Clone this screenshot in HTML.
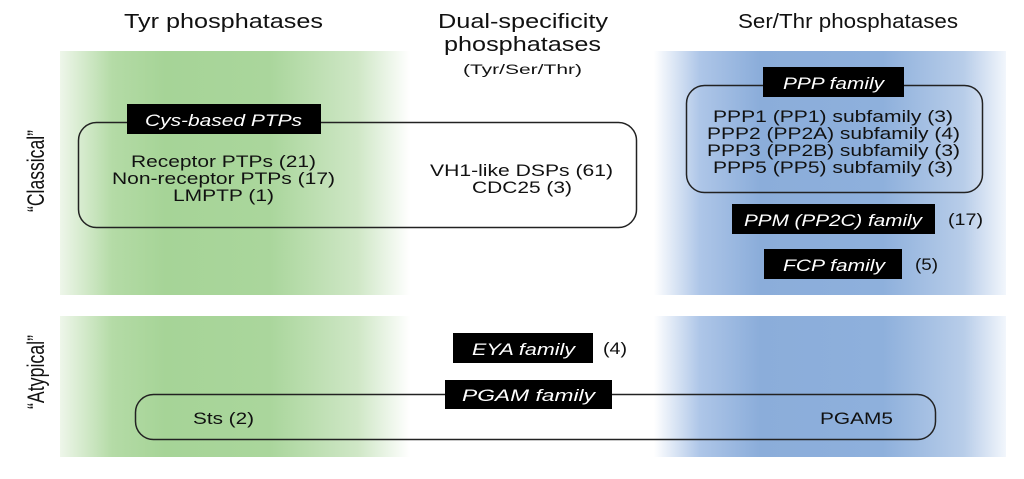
<!DOCTYPE html>
<html><head><meta charset="utf-8"><style>
html,body{margin:0;padding:0;background:#fff;width:1024px;height:479px;overflow:hidden}
svg text{font-family:"Liberation Sans",Arial,sans-serif;fill:#111}
</style></head><body>
<svg width="1024" height="479" viewBox="0 0 1024 479" xmlns="http://www.w3.org/2000/svg">
<defs>
<linearGradient id="g" x1="0" x2="1" y1="0" y2="0">
<stop offset="0" stop-color="#eef6ea"/>
<stop offset="0.15" stop-color="#b4dba6"/>
<stop offset="0.3" stop-color="#a6d497"/>
<stop offset="0.6" stop-color="#aad69c"/>
<stop offset="0.85" stop-color="#cfe7c6"/>
<stop offset="1" stop-color="#ffffff"/>
</linearGradient>
<linearGradient id="b" x1="0" x2="1" y1="0" y2="0">
<stop offset="0" stop-color="#ffffff"/>
<stop offset="0.13" stop-color="#aec6e8"/>
<stop offset="0.3" stop-color="#8badda"/>
<stop offset="0.65" stop-color="#8eb0dc"/>
<stop offset="0.88" stop-color="#b8cde9"/>
<stop offset="1" stop-color="#f2f6fc"/>
</linearGradient>
</defs>
<rect x="60" y="51" width="350" height="244" fill="url(#g)"/>
<rect x="60" y="316" width="350" height="141" fill="url(#g)"/>
<rect x="654" y="51" width="352" height="244" fill="url(#b)"/>
<rect x="654" y="316" width="352" height="141" fill="url(#b)"/>

<text x="124" y="28" font-size="20" textLength="199" lengthAdjust="spacingAndGlyphs">Tyr phosphatases</text>
<text x="438" y="28" font-size="20" textLength="170" lengthAdjust="spacingAndGlyphs">Dual-specificity</text>
<text x="444" y="51" font-size="20" textLength="157" lengthAdjust="spacingAndGlyphs">phosphatases</text>
<text x="463" y="74" font-size="14" textLength="119" lengthAdjust="spacingAndGlyphs">(Tyr/Ser/Thr)</text>
<text x="738" y="28" font-size="20" textLength="220" lengthAdjust="spacingAndGlyphs">Ser/Thr phosphatases</text>

<text transform="translate(44,171) rotate(-90)" font-size="24" text-anchor="middle" textLength="82" lengthAdjust="spacingAndGlyphs">“Classical”</text>
<text transform="translate(44,372) rotate(-90)" font-size="24" text-anchor="middle" textLength="74" lengthAdjust="spacingAndGlyphs">“Atypical”</text>

<rect x="78.5" y="122.5" width="558" height="105" rx="18" fill="none" stroke="#222" stroke-width="1.5"/>
<rect x="127" y="104" width="194" height="30" fill="#000"/>
<text x="145" y="126" font-size="17" font-style="italic" textLength="157" lengthAdjust="spacingAndGlyphs" style="fill:#fff">Cys-based PTPs</text>
<text x="131" y="167" font-size="17" textLength="185" lengthAdjust="spacingAndGlyphs">Receptor PTPs (21)</text>
<text x="112" y="184" font-size="17" textLength="223" lengthAdjust="spacingAndGlyphs">Non-receptor PTPs (17)</text>
<text x="173" y="201" font-size="17" textLength="101" lengthAdjust="spacingAndGlyphs">LMPTP (1)</text>
<text x="430" y="176" font-size="17" textLength="183" lengthAdjust="spacingAndGlyphs">VH1-like DSPs (61)</text>
<text x="472" y="193" font-size="17" textLength="100" lengthAdjust="spacingAndGlyphs">CDC25 (3)</text>

<rect x="686.5" y="85.5" width="296" height="107" rx="18" fill="none" stroke="#222" stroke-width="1.5"/>
<rect x="763" y="67" width="141" height="30" fill="#000"/>
<text x="783" y="89" font-size="17" font-style="italic" textLength="101" lengthAdjust="spacingAndGlyphs" style="fill:#fff">PPP family</text>
<text x="713" y="122" font-size="17" textLength="240" lengthAdjust="spacingAndGlyphs">PPP1 (PP1) subfamily (3)</text>
<text x="707" y="139" font-size="17" textLength="253" lengthAdjust="spacingAndGlyphs">PPP2 (PP2A) subfamily (4)</text>
<text x="707" y="156" font-size="17" textLength="253" lengthAdjust="spacingAndGlyphs">PPP3 (PP2B) subfamily (3)</text>
<text x="713" y="173" font-size="17" textLength="240" lengthAdjust="spacingAndGlyphs">PPP5 (PP5) subfamily (3)</text>

<rect x="732" y="204" width="203" height="30" fill="#000"/>
<text x="744" y="226" font-size="17" font-style="italic" textLength="178" lengthAdjust="spacingAndGlyphs" style="fill:#fff">PPM (PP2C) family</text>
<text x="948" y="225" font-size="17" textLength="35" lengthAdjust="spacingAndGlyphs">(17)</text>
<rect x="764" y="249" width="138" height="30" fill="#000"/>
<text x="783" y="271" font-size="17" font-style="italic" textLength="102" lengthAdjust="spacingAndGlyphs" style="fill:#fff">FCP family</text>
<text x="915" y="270" font-size="17" textLength="23" lengthAdjust="spacingAndGlyphs">(5)</text>

<rect x="453" y="333" width="140" height="30" fill="#000"/>
<text x="472" y="355" font-size="17" font-style="italic" textLength="103" lengthAdjust="spacingAndGlyphs" style="fill:#fff">EYA family</text>
<text x="603" y="354" font-size="17" textLength="24" lengthAdjust="spacingAndGlyphs">(4)</text>

<rect x="135.5" y="394.5" width="800" height="45" rx="18" fill="none" stroke="#222" stroke-width="1.5"/>
<rect x="445" y="380" width="167" height="29" fill="#000"/>
<text x="462" y="401" font-size="17" font-style="italic" textLength="133" lengthAdjust="spacingAndGlyphs" style="fill:#fff">PGAM family</text>
<text x="193" y="424" font-size="17" textLength="61" lengthAdjust="spacingAndGlyphs">Sts (2)</text>
<text x="820" y="424" font-size="17" textLength="73" lengthAdjust="spacingAndGlyphs">PGAM5</text>
</svg>
</body></html>
